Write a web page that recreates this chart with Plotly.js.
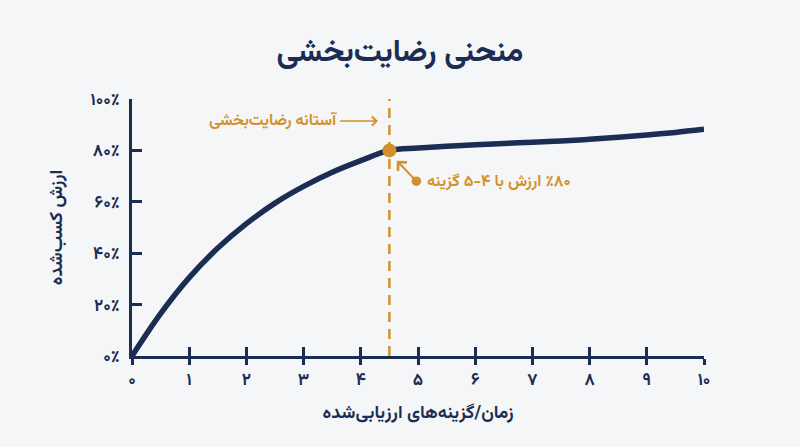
<!DOCTYPE html>
<html>
<head>
<meta charset="utf-8">
<script src="https://cdn.plot.ly/plotly-3.0.1.min.js"></script>
<style>
  html, body { margin: 0; padding: 0; background: #f5f6f7; }
  #chart { width: 800px; height: 447px; }
</style>
</head>
<body>
<div id="chart"></div>
<script>
// منحنی رضایت‌بخشی
var options = [0, 0.5, 1, 1.5, 2, 2.5, 3, 3.5, 4, 4.5, 5, 5.5, 6, 6.5, 7, 7.5, 8, 8.5, 9, 9.5, 10];
var value = [0, 16.5, 30.5, 42, 51.5, 59.5, 66, 71.5, 76, 80, 80.9, 81.6, 82.2, 82.7, 83.2, 83.7, 84.3, 85.1, 86, 87, 88.2];

var thresholdX = 4.5;
var thresholdY = 80;

var xTickVals = [0, 1, 2, 3, 4, 5, 6, 7, 8, 9, 10];
var xTickText = ['۰', '۱', '۲', '۳', '۴', '۵', '۶', '۷', '۸', '۹', '۱۰'];
var yTickVals = [0, 20, 40, 60, 80, 100];
var yTickText = ['۰٪', '۲۰٪', '۴۰٪', '۶۰٪', '۸۰٪', '۱۰۰٪'];

var navy = '#1b2d52';
var orange = '#d4912b';
var fontFam = "Vazirmatn, 'Noto Sans Arabic', 'DejaVu Sans', sans-serif";

function bold(list) {
    return list.map(function (t) { return '<b>' + t + '</b>'; });
}

var curve = {
    x: options, y: value,
    mode: 'lines',
    line: {color: navy, width: 5.5, shape: 'spline', smoothing: 1},
    cliponaxis: false,
    hoverinfo: 'skip',
    type: 'scatter'
};

var threshold = {
    x: [thresholdX, thresholdX], y: [0, 101],
    mode: 'lines',
    line: {color: orange, width: 2.5, dash: '10px,7px'},
    cliponaxis: false,
    hoverinfo: 'skip',
    type: 'scatter'
};

var point = {
    x: [thresholdX], y: [thresholdY],
    mode: 'markers',
    marker: {color: orange, size: 14},
    cliponaxis: false,
    hoverinfo: 'skip',
    type: 'scatter'
};

// second x axis only to get the part of each tick above the axis line
var tickUp = {
    x: [0, 10], y: [0, 0],
    xaxis: 'x2',
    mode: 'lines',
    line: {width: 0},
    hoverinfo: 'skip',
    type: 'scatter'
};

var data = [threshold, curve, point, tickUp];

var layout = {
    width: 800, height: 447,
    paper_bgcolor: '#f5f6f7',
    plot_bgcolor: '#f5f6f7',
    showlegend: false,
    font: {family: fontFam, color: navy},
    margin: {l: 132, r: 96, t: 99, b: 91},
    title: {
        text: '<b>منحنی رضایت‌بخشی</b>',
        font: {size: 31, color: navy, family: fontFam},
        x: 0.5, xref: 'container', xanchor: 'center',
        y: 0.888, yref: 'container', yanchor: 'middle'
    },
    xaxis: {
        range: [0, 10],
        tickvals: xTickVals, ticktext: bold(xTickText),
        ticks: 'outside', ticklen: 6, tickwidth: 3, tickcolor: navy,
        showline: true, linewidth: 3, linecolor: navy,
        showgrid: false, zeroline: false,
        tickfont: {size: 17, color: navy},
        title: {text: '<b>زمان/گزینه‌های ارزیابی‌شده</b>', font: {size: 18, color: navy}, standoff: 12}
    },
    xaxis2: {
        range: [0, 10], overlaying: 'x', side: 'bottom',
        tickvals: xTickVals,
        ticks: 'inside', ticklen: 9, tickwidth: 3, tickcolor: navy,
        showticklabels: false, showline: false,
        showgrid: false, zeroline: false
    },
    yaxis: {
        range: [0, 100],
        tickvals: yTickVals, ticktext: bold(yTickText),
        ticks: 'inside', ticklen: 10, tickwidth: 3, tickcolor: navy,
        ticklabelstandoff: 6,
        showline: true, linewidth: 3, linecolor: navy,
        showgrid: false, zeroline: false,
        tickfont: {size: 17, color: navy},
        title: {text: '<b>ارزش کسب‌شده</b>', font: {size: 18, color: navy}, standoff: 24}
    },
    annotations: [
        {
            x: 4.3, y: 91.4, xref: 'x', yref: 'y',
            text: '<b>آستانه رضایت‌بخشی</b>',
            font: {size: 16, color: orange},
            showarrow: true, ax: -104, ay: 0,
            arrowhead: 4, arrowsize: 1.2, arrowwidth: 1.5, arrowcolor: orange
        },
        {
            x: 4.63, y: 76, xref: 'x', yref: 'y',
            text: '',
            showarrow: true, ax: 20, ay: 21,
            arrowside: 'end+start',
            arrowhead: 4, startarrowhead: 6,
            arrowsize: 1.2, startarrowsize: 1.2,
            arrowwidth: 2, arrowcolor: orange, borderpad: 0
        },
        {
            x: 5.12, y: 67.7, xref: 'x', yref: 'y',
            text: '<b>\u202B٪۸۰ ارزش با ۴-۵ گزینه\u202C</b>',
            font: {size: 16, color: orange},
            showarrow: false, xanchor: 'left', yanchor: 'middle'
        }
    ]
};

Plotly.newPlot('chart', data, layout, {displayModeBar: false, staticPlot: true});
</script>
</body>
</html>
